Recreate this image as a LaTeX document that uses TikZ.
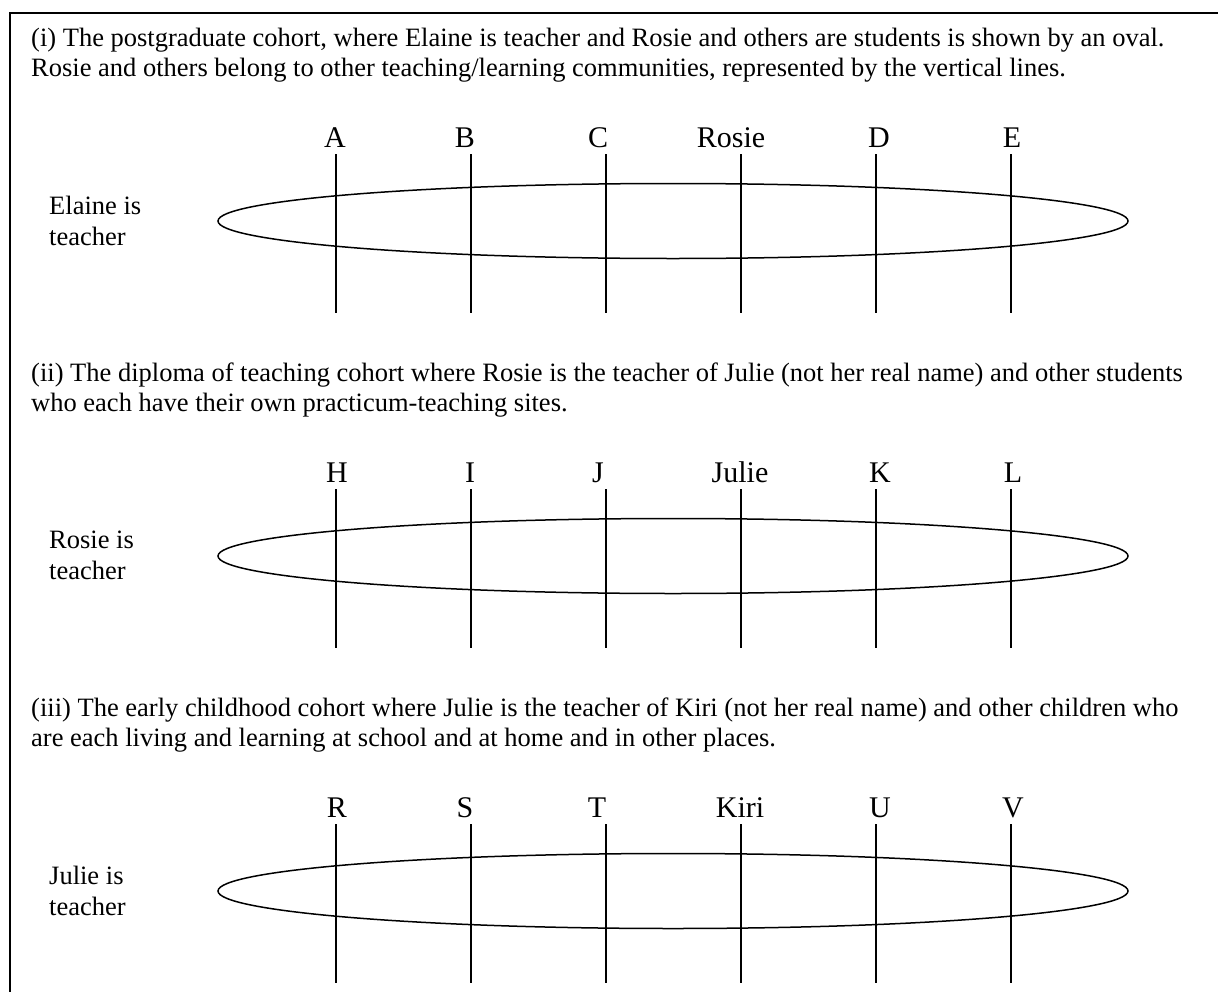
\documentclass[tikz,border=0pt]{standalone}
\usepackage{fontspec}
\setmainfont{Liberation Serif}
\usetikzlibrary{shapes.geometric}
\begin{document}
\begin{tikzpicture}[x=1bp,y=-1bp,
  intro/.style={anchor=north west, inner sep=0pt, align=left, font=\fontsize{26.5bp}{30bp}\selectfont},
  side/.style={anchor=north west, inner sep=0pt, align=left, font=\fontsize{26.5bp}{31bp}\selectfont},
  lbl/.style={anchor=base, inner sep=0pt, font=\fontsize{30bp}{34bp}\selectfont},
  oval/.style={draw, ellipse, minimum width=910bp, minimum height=75bp, inner sep=0pt, line width=1.5bp},
  comm/.style={line width=1.6bp},
  framestyle/.style={line width=1.6bp}]
\useasboundingbox (0,0) rectangle (1218,992);
\fill[white] (0,0) rectangle (1218,992);
% frame
\coordinate (fb) at (10,992);
\coordinate (fc) at (10,13);
\coordinate (fr) at (1218,13);
\draw[framestyle] (fb) -- (fc) -- (fr);
% row 1
\begin{scope}
\node[intro] (t1) at (31,28) {(i) The postgraduate cohort, where Elaine is teacher and Rosie and others are students is shown by an oval.\\Rosie and others belong to other teaching/learning communities, represented by the vertical lines.};
\node[side] (s1) at (49,196) {Elaine is\\teacher};
\node[oval] (o1) at (673,221) {};
\foreach \x/\n/\t/\lx in {336/a/A/335, 471/b/B/465, 606/c/C/598, 741/d/Rosie/731, 876/e/D/879, 1011/f/E/1012} {
  \node[lbl] (r1\n) at (\lx,147) {\t};
  \coordinate (r1\n top) at (\x,154);
  \coordinate (r1\n bot) at (\x,313);
  \draw[comm] (r1\n top) -- (r1\n bot);
}
\end{scope}
% row 2
\begin{scope}[shift={(0,335)}]
\node[intro] (t2) at (31,28) {(ii) The diploma of teaching cohort where Rosie is the teacher of Julie (not her real name) and other students\\who each have their own practicum-teaching sites.};
\node[side] (s2) at (49,196) {Rosie is\\teacher};
\node[oval] (o2) at (673,221) {};
\foreach \x/\n/\t/\lx in {336/a/H/337, 471/b/I/470, 606/c/J/598, 741/d/Julie/740, 876/e/K/880, 1011/f/L/1013} {
  \node[lbl] (r2\n) at (\lx,147) {\t};
  \coordinate (r2\n top) at (\x,154);
  \coordinate (r2\n bot) at (\x,313);
  \draw[comm] (r2\n top) -- (r2\n bot);
}
\end{scope}
% row 3
\begin{scope}[shift={(0,670)}]
\node[intro] (t3) at (31,28) {(iii) The early childhood cohort where Julie is the teacher of Kiri (not her real name) and other children who\\are each living and learning at school and at home and in other places.};
\node[side] (s3) at (49,196) {Julie is\\teacher};
\node[oval] (o3) at (673,221) {};
\foreach \x/\n/\t/\lx in {336/a/R/337, 471/b/S/465, 606/c/T/597, 741/d/Kiri/740, 876/e/U/880, 1011/f/V/1013} {
  \node[lbl] (r3\n) at (\lx,147) {\t};
  \coordinate (r3\n top) at (\x,154);
  \coordinate (r3\n bot) at (\x,313);
  \draw[comm] (r3\n top) -- (r3\n bot);
}
\end{scope}
\end{tikzpicture}
\end{document}
